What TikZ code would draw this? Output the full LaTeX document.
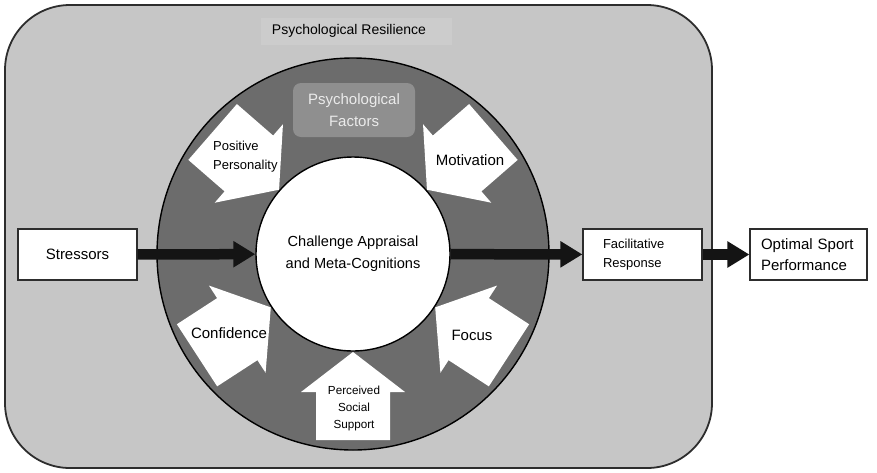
\documentclass[tikz,border=0pt]{standalone}
\usepackage{fontspec}
\setmainfont{Liberation Sans}
\usetikzlibrary{arrows.meta}
\definecolor{bggray}{RGB}{198,198,198}
\definecolor{labgray}{RGB}{204,204,204}
\definecolor{ringgray}{RGB}{108,108,108}
\definecolor{pfgray}{RGB}{143,143,143}
\definecolor{arrblack}{RGB}{20,20,20}
\definecolor{edgegray}{RGB}{45,45,45}
\tikzset{
  wharrow/.pic={\fill[white] (98,0) -- (138,52) -- (138,37) -- (186,37) -- (186,-37) -- (138,-37) -- (138,-52) -- cycle;},
  blkarrow/.style={draw=arrblack, line width=10.5pt, -{Triangle[length=22pt,width=25pt]}},
  whitebox/.style={draw=edgegray, line width=1.2pt, fill=white, minimum height=51pt},
  bigtxt/.style={font=\fontsize{15}{21}\selectfont},
  smalltxt/.style={font=\fontsize{13}{19}\selectfont},
  plain/.style={inner sep=0pt}
}
\begin{document}
\begin{tikzpicture}[x=1pt,y=-1pt]
\useasboundingbox (0,0) rectangle (877,472);
\fill[white] (0,0) rectangle (877,472);
% outer resilience region
\draw[line width=1.8pt, draw=edgegray, fill=bggray, rounded corners=65pt] (5,5) rectangle (712,468);
\fill[labgray] (261,18) rectangle (452,45);
\node (reslab) [plain, font=\fontsize{14}{16}\selectfont] at (349,31) {Psychological Resilience};
% ring
\node (ring) [circle, draw=black, line width=1.4pt, fill=ringgray, minimum size=392pt, inner sep=0pt] at (353,254) {};
\node (pf) [fill=pfgray, rounded corners=8pt, minimum width=122pt, minimum height=54pt, text=white!92!black, align=center, font=\fontsize{15}{22}\selectfont] at (354,110) {Psychological\\Factors};
% white block arrows
\pic[rotate=139] at (353,254) {wharrow};
\pic[rotate=41] at (353,254) {wharrow};
\pic[rotate=213] at (353,254) {wharrow};
\pic[rotate=327] at (353,254) {wharrow};
\pic[rotate=270] at (353,254) {wharrow};
% inner circle
\node (inner) [circle, draw=black, line width=1.4pt, fill=white, minimum size=194pt, inner sep=0pt, align=center, font=\fontsize{14.6}{22}\selectfont] at (353,254) {Challenge Appraisal\\and Meta-Cognitions};
% arrow labels
\node (pp) [plain, anchor=west, align=left, smalltxt] at (213,157) {Positive\\Personality};
\node (mot) [plain, bigtxt] at (470,160) {Motivation};
\node (conf) [plain, bigtxt] at (229,333) {Confidence};
\node (foc) [plain, bigtxt] at (472,335) {Focus};
\node (pss) [plain, align=center, font=\fontsize{11.7}{17}\selectfont] at (354,408) {Perceived\\Social\\Support};
% boxes
\node (stress) [whitebox, minimum width=119pt, bigtxt] at (77.5,254.5) {Stressors};
\node (fac) [whitebox, inner xsep=20pt, text width=79pt, align=left, smalltxt] at (642.5,254.5) {Facilitative\\Response};
\node (opt) [whitebox, inner xsep=11pt, text width=95pt, align=left, bigtxt] at (808.5,254.5) {Optimal Sport\\Performance};
% connectors
\draw[blkarrow] (stress) -- (inner);
\draw[blkarrow] (inner) -- (fac);
\draw[blkarrow] (fac) -- (opt);
\end{tikzpicture}
\end{document}
